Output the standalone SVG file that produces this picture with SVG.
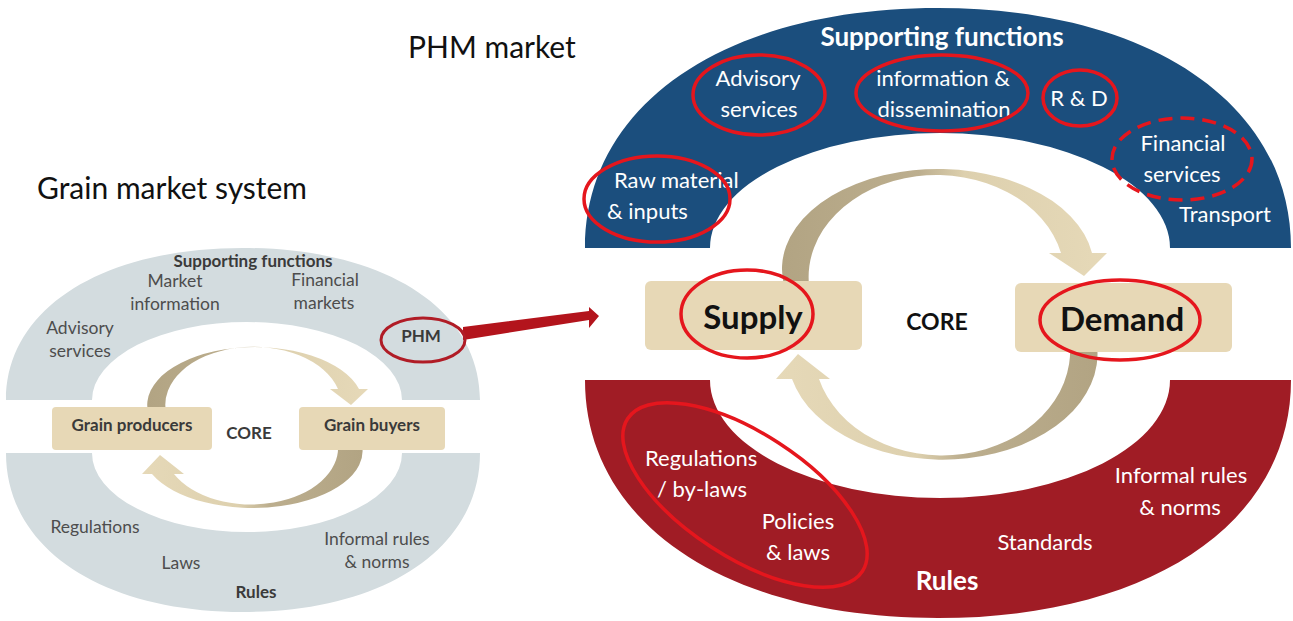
<svg xmlns="http://www.w3.org/2000/svg" width="1293" height="621" viewBox="0 0 1293 621">
  <defs>
    <style>
      .t { font-family: Lato, "Liberation Sans", sans-serif; }
      .title { font-size: 30px; fill: #111; }
      .lt { font-size: 17.5px; fill: #4d4d4d; text-anchor: middle; }
      .ltb { font-size: 17px; fill: #3a3a3a; font-weight: bold; text-anchor: middle; }
      .rt { font-size: 22px; fill: #fff; text-anchor: middle; }
      .rl { font-size: 22px; fill: #fff; text-anchor: start; }
      .rtb { font-weight: bold; fill: #fff; text-anchor: middle; }
      .core { font-weight: bold; fill: #111; text-anchor: middle; }
      .hl { fill: none; stroke: #e5161d; stroke-width: 3.5; }
      .box { fill: #e7d8b6; }
    </style>
    <linearGradient id="gA" gradientUnits="userSpaceOnUse" x1="782" y1="0" x2="1108" y2="0">
      <stop offset="0" stop-color="#b2a483"/>
      <stop offset="0.42" stop-color="#bcae8e"/>
      <stop offset="0.56" stop-color="#ddd0ae"/>
      <stop offset="1" stop-color="#e6d9b8"/>
    </linearGradient>
    <linearGradient id="gB" gradientUnits="userSpaceOnUse" x1="1097" y1="0" x2="776" y2="0">
      <stop offset="0" stop-color="#b2a483"/>
      <stop offset="0.42" stop-color="#bcae8e"/>
      <stop offset="0.56" stop-color="#ddd0ae"/>
      <stop offset="1" stop-color="#e6d9b8"/>
    </linearGradient>
    <linearGradient id="gC" gradientUnits="userSpaceOnUse" x1="147" y1="0" x2="368" y2="0">
      <stop offset="0" stop-color="#b2a483"/>
      <stop offset="0.42" stop-color="#bcae8e"/>
      <stop offset="0.56" stop-color="#ddd0ae"/>
      <stop offset="1" stop-color="#e6d9b8"/>
    </linearGradient>
    <linearGradient id="gD" gradientUnits="userSpaceOnUse" x1="362" y1="0" x2="141" y2="0">
      <stop offset="0" stop-color="#b2a483"/>
      <stop offset="0.42" stop-color="#bcae8e"/>
      <stop offset="0.56" stop-color="#ddd0ae"/>
      <stop offset="1" stop-color="#e6d9b8"/>
    </linearGradient>
  </defs>

  <rect width="1293" height="621" fill="#fff"/>

  <!-- headings -->
  <text class="t title" x="408" y="58">PHM market</text>
  <text class="t title" x="37" y="199" font-size="30.5">Grain market system</text>

  <!-- grain market: supporting functions (top) and rules (bottom) -->
  <g id="grain-ring" fill="#d3dcdf">
    <path d="M 6 400 C 6 309, 101 248, 243 248 C 385 248, 480 309, 480 400 L 402 400 A 155 78 0 0 0 92 400 Z"/>
    <path d="M 6 453 C 6 548, 101 612, 243 612 C 385 612, 480 548, 480 453 L 402 453 A 155 79 0 0 1 92 453 Z"/>
  </g>

  <!-- PHM market: supporting functions (blue) and rules (red) -->
  <g id="phm-supporting">
    <path fill="#1b4e7d" d="M 585 248 C 585 104, 726 8, 938 8 C 1150 8, 1291 104, 1291 248 L 1170 248 A 230 115 0 0 0 710 248 Z"/>
  </g>
  <g id="phm-rules">
    <path fill="#a01c25" d="M 585 380 C 585 523, 726 618, 938 618 C 1150 618, 1291 523, 1291 380 L 1170 380 A 230 118 0 0 1 710 380 Z"/>
  </g>

  <!-- curved flows and the PHM link -->
  <g id="connectors">
    <path fill="url(#gA)" d="M 784 285 A 156 100 0 0 1 1092 253 L 1107 253 L 1084 276 L 1049 253 L 1061 253 A 128 102 0 0 0 809 285 Z"/>
    <path fill="url(#gB)" d="M 1097 345 A 155 106 0 0 1 792 379 L 776 379 L 798 354 L 830 379 L 819 379 A 128 105 0 0 0 1070 345 Z"/>
    <path fill="url(#gC)" d="M 148 412 A 108 58 0 0 1 359 389 L 368 389 L 351 405 L 330 389 L 338 389 A 88 58 0 0 0 166 412 Z"/>
    <path fill="url(#gD)" d="M 362 445 A 110 57 0 0 1 152 474 L 142 474 L 160 455 L 184 474 L 174 474 A 87 57 0 0 0 338 445 Z"/>
    <polygon fill="#b3141c" points="463,327 589,311 589,307 599,316 589,328 589,320 463,340"/>
  </g>

  <!-- grain market labels -->
  <g id="grain-supporting-labels">
    <text class="t ltb" x="253" y="267">Supporting functions</text>
    <text class="t lt" x="175" y="287">Market</text>
    <text class="t lt" x="175" y="310">information</text>
    <text class="t lt" x="325" y="286">Financial</text>
    <text class="t lt" x="324" y="309">markets</text>
    <text class="t lt" x="80" y="334">Advisory</text>
    <text class="t lt" x="80" y="357">services</text>
  </g>
  <g id="grain-phm">
    <text class="t ltb" x="421" y="342">PHM</text>
    <ellipse cx="423" cy="340" rx="42" ry="22" fill="none" stroke="#b01c26" stroke-width="3"/>
  </g>
  <g id="grain-producers">
    <rect class="box" x="52" y="407" width="160" height="43" rx="4"/>
    <text class="t ltb" x="132" y="431">Grain producers</text>
  </g>
  <g id="grain-core">
    <text class="t ltb" x="249" y="439">CORE</text>
  </g>
  <g id="grain-buyers">
    <rect class="box" x="299" y="407" width="146" height="43" rx="4"/>
    <text class="t ltb" x="372" y="431">Grain buyers</text>
  </g>
  <g id="grain-rules-labels">
    <text class="t lt" x="95" y="533">Regulations</text>
    <text class="t lt" x="181" y="569">Laws</text>
    <text class="t lt" x="377" y="545">Informal rules</text>
    <text class="t lt" x="377" y="568">&amp; norms</text>
    <text class="t ltb" x="256" y="598">Rules</text>
  </g>

  <!-- PHM market labels -->
  <g id="phm-supporting-labels">
    <text class="t rtb" x="942" y="46" font-size="26">Supporting functions</text>
    <text class="t rt" x="758" y="86">Advisory</text>
    <text class="t rt" x="759" y="117">services</text>
    <text class="t rt" x="943" y="86">information &amp;</text>
    <text class="t rt" x="944" y="117">dissemination</text>
    <text class="t rt" x="1079" y="106">R &amp; D</text>
    <text class="t rt" x="1183" y="151">Financial</text>
    <text class="t rt" x="1182" y="182">services</text>
    <text class="t rt" x="1225" y="222">Transport</text>
    <text class="t rl" x="614" y="188">Raw material</text>
    <text class="t rl" x="607" y="219">&amp; inputs</text>
  </g>
  <g id="phm-supply">
    <rect class="box" x="645" y="281" width="217" height="69" rx="6"/>
    <text class="t core" x="753" y="329" font-size="33">Supply</text>
  </g>
  <g id="phm-core">
    <text class="t core" x="937" y="330" font-size="23">CORE</text>
  </g>
  <g id="phm-demand">
    <rect class="box" x="1015" y="283" width="217" height="69" rx="6"/>
    <text class="t core" x="1122" y="331" font-size="33">Demand</text>
  </g>
  <g id="phm-rules-labels">
    <text class="t rl" x="645" y="466">Regulations</text>
    <text class="t rl" x="657" y="497">/ by-laws</text>
    <text class="t rt" x="798" y="529">Policies</text>
    <text class="t rt" x="798" y="560">&amp; laws</text>
    <text class="t rt" x="1045" y="550">Standards</text>
    <text class="t rt" x="1181" y="483">Informal rules</text>
    <text class="t rt" x="1180" y="515">&amp; norms</text>
    <text class="t rtb" x="947" y="590" font-size="26">Rules</text>
  </g>

  <!-- highlight rings -->
  <g id="highlights">
    <ellipse class="hl" cx="759" cy="95" rx="66" ry="40"/>
    <ellipse class="hl" cx="942" cy="93" rx="86" ry="38"/>
    <ellipse class="hl" cx="1080" cy="98" rx="37" ry="28"/>
    <ellipse class="hl" cx="1182" cy="159" rx="70" ry="41" stroke-dasharray="14 8"/>
    <ellipse class="hl" cx="657" cy="199" rx="73" ry="43"/>
    <ellipse class="hl" cx="747" cy="314" rx="66" ry="44"/>
    <ellipse class="hl" cx="1120" cy="320" rx="80" ry="40"/>
    <ellipse class="hl" cx="745" cy="495" rx="140" ry="62" transform="rotate(33 745 495)"/>
  </g>
</svg>
